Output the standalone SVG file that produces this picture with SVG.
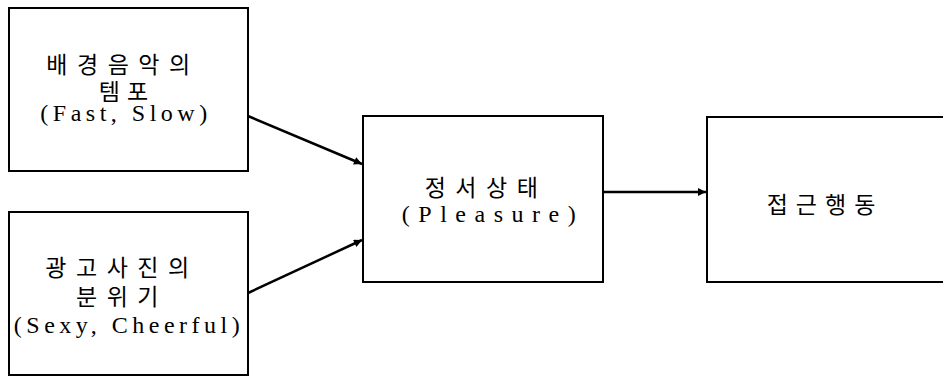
<svg xmlns="http://www.w3.org/2000/svg" width="943" height="378" viewBox="0 0 943 378">
<style>
.box{fill:#fff;stroke:#000;stroke-width:2}
.ko{font-family:"Noto Sans CJK KR",sans-serif;font-size:23px;letter-spacing:9.5px;text-anchor:middle;fill:#000}
.en{font-family:"Liberation Serif",serif;font-size:24px;letter-spacing:4.5px;text-anchor:middle;fill:#000}
.con{stroke:#000;stroke-width:2.5;fill:none;marker-end:url(#ah)}
</style>
<defs>
<marker id="ah" viewBox="0 0 10 10" refX="10" refY="5" markerWidth="11" markerHeight="8" markerUnits="userSpaceOnUse" orient="auto">
<path d="M0,0 L10,5 L0,10 Z" fill="#000"/>
</marker>
</defs>
<rect width="943" height="378" fill="#fff"/>
<g id="tempo">
<rect class="box" x="9" y="8" width="239" height="163"/>
<text class="ko" x="123" y="73">배경음악의</text>
<text class="ko" x="127" y="100" style="letter-spacing:7px">템포</text>
<text class="en" x="126" y="121">(Fast, Slow)</text>
</g>
<g id="mood">
<rect class="box" x="9" y="212" width="239" height="163"/>
<text class="ko" x="122" y="276">광고사진의</text>
<text class="ko" x="122" y="305">분위기</text>
<text class="en" x="129" y="333">(Sexy, Cheerful)</text>
</g>
<g id="emotion">
<rect class="box" x="363" y="116" width="240" height="166"/>
<text class="ko" x="486" y="196">정서상태</text>
<text class="en" x="493" y="222" style="letter-spacing:8.5px">(Pleasure)</text>
</g>
<g id="approach">
<rect class="box" x="707" y="117" width="240" height="165"/>
<text class="ko" x="825" y="213" style="letter-spacing:8px">접근행동</text>
</g>
<g id="connectors">
<path class="con" d="M248,116 L362,164"/>
<path class="con" d="M248,293 L362,240"/>
<path class="con" d="M603,192 L706,192"/>
</g>
</svg>
